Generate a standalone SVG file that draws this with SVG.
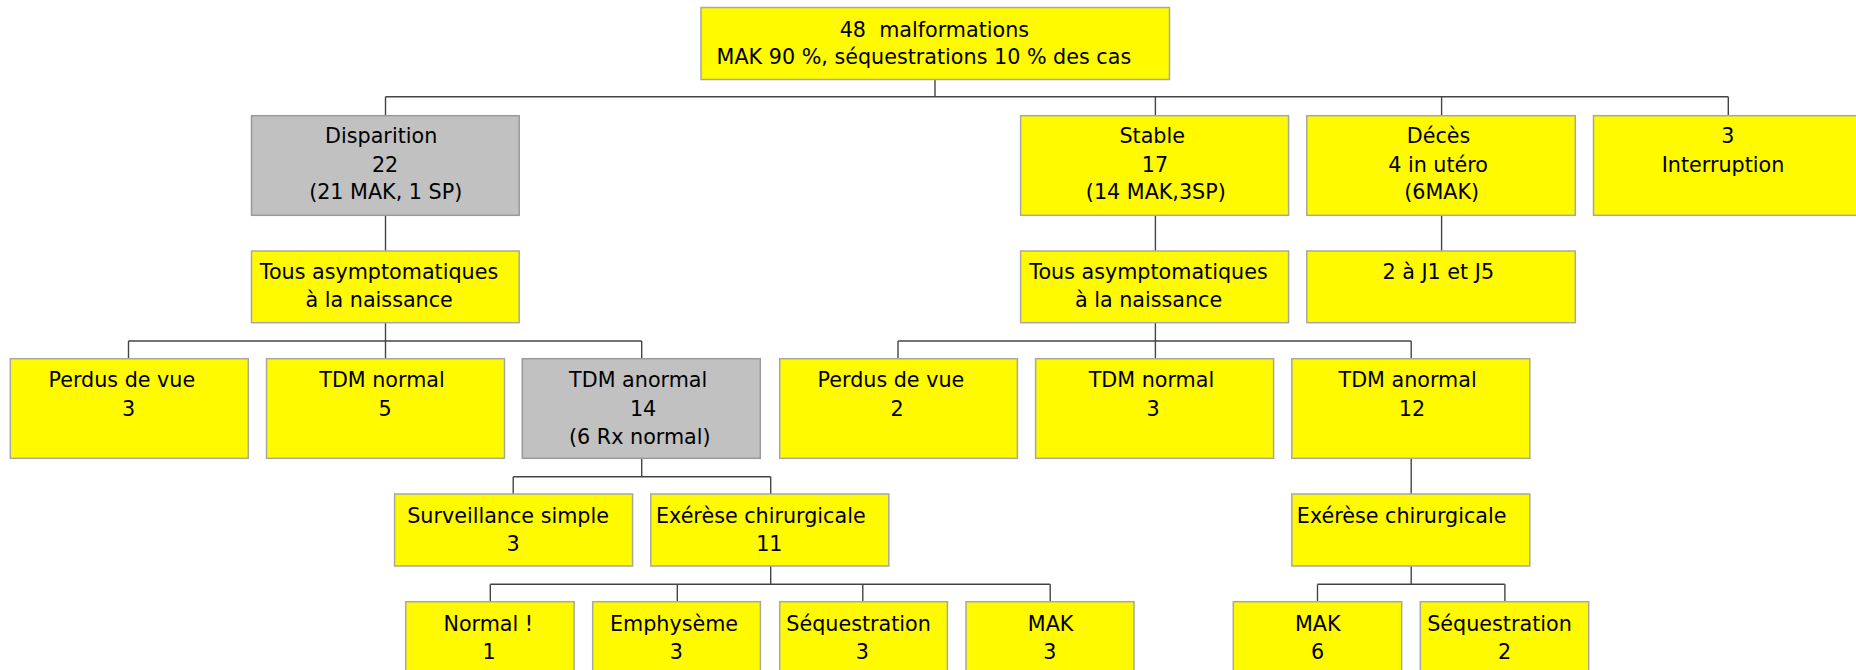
<svg xmlns="http://www.w3.org/2000/svg" width="1856" height="670" viewBox="0 0 1856 670">
<style>
.y{fill:#FFFA00;stroke:#A8A8A0;stroke-width:1.5}
.g{fill:#C0C1C0;stroke:#9A9A9A;stroke-width:1.5}
text{font-family:"DejaVu Sans","Liberation Sans",sans-serif;font-size:20.7px;fill:#000;text-anchor:middle}
.pre{white-space:pre}
.c line{stroke:#444;stroke-width:1.4}
</style>
<rect width="1856" height="670" fill="#fff"/>
<g class="c" id="connectors">
<line x1="935" y1="79.3" x2="935" y2="96.7"/>
<line x1="385.5" y1="96.7" x2="1728.3" y2="96.7"/>
<line x1="385.5" y1="96.7" x2="385.5" y2="115.7"/>
<line x1="1155.4" y1="96.7" x2="1155.4" y2="115.7"/>
<line x1="1441.6" y1="96.7" x2="1441.6" y2="115.7"/>
<line x1="1728.3" y1="96.7" x2="1728.3" y2="115.7"/>
<line x1="385.5" y1="215.3" x2="385.5" y2="251"/>
<line x1="385.5" y1="322.7" x2="385.5" y2="341"/>
<line x1="128.5" y1="341" x2="641.7" y2="341"/>
<line x1="128.5" y1="341" x2="128.5" y2="358.7"/>
<line x1="385.5" y1="341" x2="385.5" y2="358.7"/>
<line x1="641.7" y1="341" x2="641.7" y2="358.7"/>
<line x1="641.7" y1="458.3" x2="641.7" y2="476.7"/>
<line x1="513.2" y1="476.7" x2="770.7" y2="476.7"/>
<line x1="513.2" y1="476.7" x2="513.2" y2="494"/>
<line x1="770.7" y1="476.7" x2="770.7" y2="494"/>
<line x1="770.7" y1="566" x2="770.7" y2="584.3"/>
<line x1="490.3" y1="584.3" x2="1050.2" y2="584.3"/>
<line x1="490.3" y1="584.3" x2="490.3" y2="601.7"/>
<line x1="677.3" y1="584.3" x2="677.3" y2="601.7"/>
<line x1="862.8" y1="584.3" x2="862.8" y2="601.7"/>
<line x1="1050.2" y1="584.3" x2="1050.2" y2="601.7"/>
<line x1="1155.4" y1="215.3" x2="1155.4" y2="251"/>
<line x1="1155.4" y1="322.7" x2="1155.4" y2="341"/>
<line x1="898" y1="341" x2="1411.2" y2="341"/>
<line x1="898" y1="341" x2="898" y2="358.7"/>
<line x1="1155.4" y1="341" x2="1155.4" y2="358.7"/>
<line x1="1411.2" y1="341" x2="1411.2" y2="358.7"/>
<line x1="1411.2" y1="458.3" x2="1411.2" y2="494"/>
<line x1="1411.2" y1="566" x2="1411.2" y2="584.3"/>
<line x1="1317.5" y1="584.3" x2="1504.9" y2="584.3"/>
<line x1="1317.5" y1="584.3" x2="1317.5" y2="601.7"/>
<line x1="1504.9" y1="584.3" x2="1504.9" y2="601.7"/>
<line x1="1441.6" y1="215.3" x2="1441.6" y2="251"/>
</g>
<g id="root"><rect class="y" x="701" y="7.5" width="468.5" height="72"/>
<text class="pre" x="934.4" y="36.7">48  malformations</text><text x="923.9" y="64.3">MAK 90 %, séquestrations 10 % des cas</text></g>
<g id="disparition"><rect class="g" x="251.5" y="115.7" width="267.7" height="99.6"/>
<text x="381.2" y="143.3">Disparition</text><text x="385.1" y="171.7">22</text><text x="385.7" y="199.3">(21 MAK, 1 SP)</text></g>
<g id="stable"><rect class="y" x="1020.6" y="115.7" width="268" height="99.6"/>
<text x="1152.2" y="143.3">Stable</text><text x="1155" y="171.7">17</text><text x="1155.8" y="199.3">(14 MAK,3SP)</text></g>
<g id="deces"><rect class="y" x="1306.8" y="115.7" width="268.5" height="99.6"/>
<text x="1438.5" y="143.3">Décès</text><text x="1438.1" y="171.7">4 in utéro</text><text x="1441.6" y="199.3">(6MAK)</text></g>
<g id="interruption"><rect class="y" x="1593.5" y="115.7" width="280" height="99.6"/>
<text x="1727.9" y="143.3">3</text><text x="1723" y="171.7">Interruption</text></g>
<g id="tous-l"><rect class="y" x="251.5" y="251" width="267.7" height="71.7"/>
<text x="379" y="279.3">Tous asymptomatiques</text><text x="379.2" y="307.3">à la naissance</text></g>
<g id="tous-r"><rect class="y" x="1020.6" y="251" width="268" height="71.7"/>
<text x="1148.5" y="279.3">Tous asymptomatiques</text><text x="1148.5" y="307.3">à la naissance</text></g>
<g id="j1j5"><rect class="y" x="1306.8" y="251" width="268.5" height="71.7"/>
<text x="1438.3" y="279.3">2 à J1 et J5</text></g>
<g id="perdus-l"><rect class="y" x="10.3" y="358.7" width="238" height="99.6"/>
<text x="121.8" y="387.3">Perdus de vue</text><text x="128.5" y="415.7">3</text></g>
<g id="tdmn-l"><rect class="y" x="266.5" y="358.7" width="238" height="99.6"/>
<text x="382" y="387.3">TDM normal</text><text x="385" y="415.7">5</text></g>
<g id="tdma-l"><rect class="g" x="522.3" y="358.7" width="238" height="99.6"/>
<text x="638.2" y="387.3">TDM anormal</text><text x="643.1" y="415.7">14</text><text x="639.8" y="444.3">(6 Rx normal)</text></g>
<g id="perdus-r"><rect class="y" x="779.7" y="358.7" width="237.7" height="99.6"/>
<text x="890.9" y="387.3">Perdus de vue</text><text x="897.2" y="415.7">2</text></g>
<g id="tdmn-r"><rect class="y" x="1035.6" y="358.7" width="238" height="99.6"/>
<text x="1151.4" y="387.3">TDM normal</text><text x="1153" y="415.7">3</text></g>
<g id="tdma-r"><rect class="y" x="1291.8" y="358.7" width="238" height="99.6"/>
<text x="1407.6" y="387.3">TDM anormal</text><text x="1412" y="415.7">12</text></g>
<g id="surveillance"><rect class="y" x="394.6" y="494" width="238" height="72"/>
<text x="508.1" y="522.7">Surveillance simple</text><text x="513" y="551">3</text></g>
<g id="exerese-l"><rect class="y" x="650.8" y="494" width="238" height="72"/>
<text x="760.8" y="522.7">Exérèse chirurgicale</text><text x="769.3" y="551">11</text></g>
<g id="exerese-r"><rect class="y" x="1291.8" y="494" width="238" height="72"/>
<text x="1401.7" y="522.7">Exérèse chirurgicale</text></g>
<g id="normal"><rect class="y" x="405.7" y="601.7" width="168.4" height="80"/>
<text x="488.3" y="630.5">Normal !</text><text x="489" y="659">1</text></g>
<g id="emphyseme"><rect class="y" x="592.7" y="601.7" width="167.7" height="80"/>
<text x="674" y="630.5">Emphysème</text><text x="676.3" y="659">3</text></g>
<g id="sequestration-l"><rect class="y" x="779.7" y="601.7" width="167.7" height="80"/>
<text x="858.6" y="630.5">Séquestration</text><text x="862.4" y="659">3</text></g>
<g id="mak-l"><rect class="y" x="966" y="601.7" width="168" height="80"/>
<text x="1050.6" y="630.5">MAK</text><text x="1049.8" y="659">3</text></g>
<g id="mak-r"><rect class="y" x="1233.3" y="601.7" width="168.4" height="80"/>
<text x="1317.7" y="630.5">MAK</text><text x="1317.5" y="659">6</text></g>
<g id="sequestration-r"><rect class="y" x="1420.3" y="601.7" width="168.4" height="80"/>
<text x="1499.5" y="630.5">Séquestration</text><text x="1504.5" y="659">2</text></g>
</svg>
